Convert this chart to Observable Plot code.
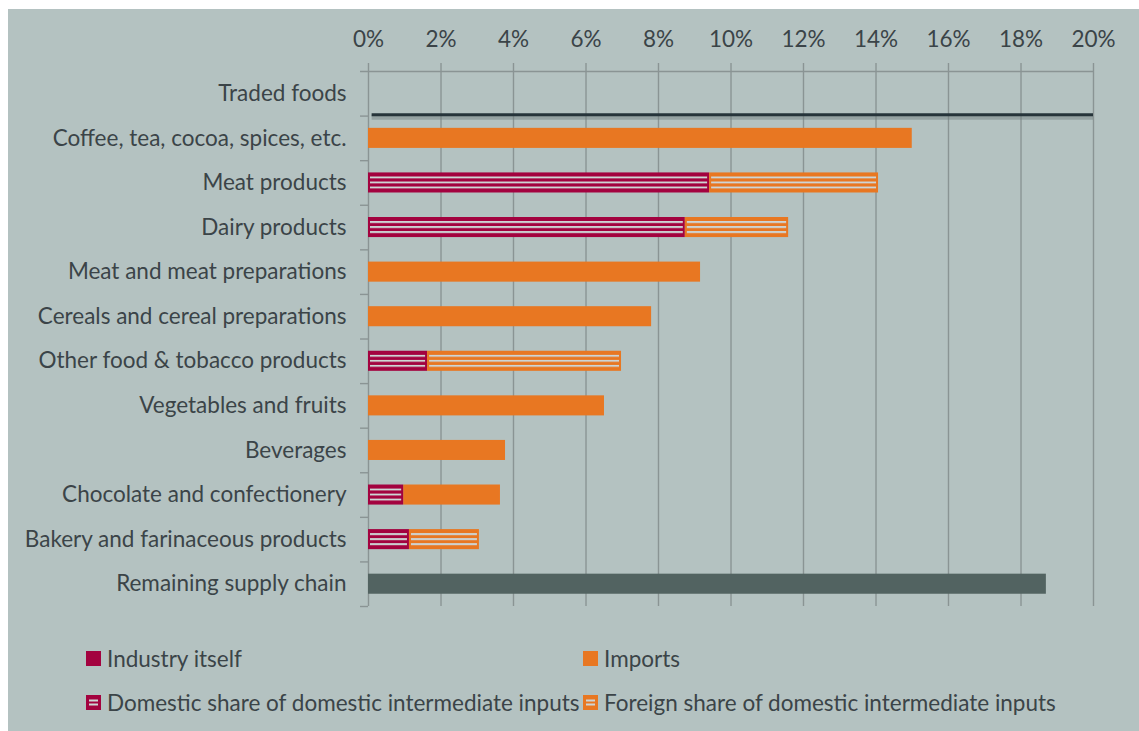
<!DOCTYPE html>
<html><head><meta charset="utf-8">
<script src="https://cdn.jsdelivr.net/npm/d3@7"></script>
<script src="https://cdn.jsdelivr.net/npm/@observablehq/plot@0.6"></script>
<style>
html,body{margin:0;padding:0;background:#fff;}
#panel{position:absolute;left:8px;top:9px;width:1131px;height:722px;background:#b4c2c1;font-family:Lato,"Open Sans",sans-serif;color:#3b4448;overflow:hidden;}
#chart svg{display:block;}
#legend{position:absolute;left:78px;top:627px;width:1050px;display:grid;grid-template-columns:497px 530px;grid-auto-rows:44px;font-size:22.5px;}
.item{display:flex;align-items:center;white-space:nowrap;}
.item svg{margin-right:6px;flex:none;}
</style></head><body>
<div id="panel"><div id="chart"></div><div id="legend"></div></div>
<script>
const categories = [
  "Traded foods",
  "Coffee, tea, cocoa, spices, etc.",
  "Meat products",
  "Dairy products",
  "Meat and meat preparations",
  "Cereals and cereal preparations",
  "Other food & tobacco products",
  "Vegetables and fruits",
  "Beverages",
  "Chocolate and confectionery",
  "Bakery and farinaceous products",
  "Remaining supply chain"
];
// values in percent, aligned with categories (null = no segment)
const industryItself = [null, null, null, null, null, null, null, null, null, null, null, null];
const domesticShare  = [null, null, 9.41, 8.74, null, null, 1.63, null, null, 0.97, 1.13, null];
const foreignShare   = [null, null, 4.66, 2.85, null, null, 5.35, null, null, null, 1.93, null];
const imports        = [null, 15.0, null, null, 9.16, 7.81, null, 6.51, 3.78, 2.67, null, null];
const remainingChain = [null, null, null, null, null, null, null, null, null, null, null, 18.70];
const tradedFoodsLine = [{category: "Traded foods", from: 0.1, to: 20}];
const xTicks = [0, 2, 4, 6, 8, 10, 12, 14, 16, 18, 20];
const legendNames = [
  "Industry itself",
  "Imports",
  "Domestic share of domestic intermediate inputs",
  "Foreign share of domestic intermediate inputs"
];

const CRIMSON = "#a3023f", ORANGE = "#e87722", DARK = "#526361", LIGHT = "#cdd5d5";
const GRID = "#8a9494", TEXT = "#3b4448";

const series = [
  {values: industryItself, fill: CRIMSON, stroke: "none", striped: false},
  {values: domesticShare, fill: "url(#stripeCrimson)", stroke: CRIMSON, striped: true},
  {values: foreignShare, fill: "url(#stripeOrange)", stroke: ORANGE, striped: true},
  {values: imports, fill: ORANGE, stroke: "none", striped: false},
  {values: remainingChain, fill: DARK, stroke: "none", striped: false}
];

const rows = [];
categories.forEach((c, i) => {
  let start = 0;
  for (const s of series) {
    const v = s.values[i];
    if (v == null) continue;
    rows.push({category: c, x1: start, x2: start + v, fill: s.fill, stroke: s.stroke, striped: s.striped});
    start += v;
  }
});
const solidRows = rows.filter(d => !d.striped);
const stripedRows = rows.filter(d => d.striped);

const FONT = "Lato, 'Open Sans', sans-serif";
const chart = Plot.plot({
  width: 1131, height: 620,
  marginLeft: 360, marginRight: 46, marginTop: 62, marginBottom: 23,
  style: {background: "transparent", fontFamily: FONT, fontSize: "22.5px", color: TEXT},
  x: {domain: [0, 20], ticks: xTicks, label: null},
  y: {domain: categories, paddingInner: 0.55, paddingOuter: 0.275, round: false, label: null},
  color: {type: "identity"},
  marks: [
    Plot.gridX(xTicks, {stroke: GRID, strokeOpacity: 1, strokeWidth: 1.4, insetTop: -8}),
    Plot.ruleY(categories.slice(0, 1), {y: d => d, x1: -0.22, x2: 20, dy: -22.3, stroke: GRID, strokeWidth: 1.4}),
    Plot.ruleY(categories, {y: d => d, x1: -0.22, x2: 0, dy: 22.3, stroke: GRID, strokeWidth: 1.4}),
    Plot.barX(solidRows, {y: "category", x1: "x1", x2: "x2", fill: "fill"}),
    Plot.barX(stripedRows, {y: "category", x1: "x1", x2: "x2", fill: "fill", stroke: "stroke", strokeWidth: 2, insetTop: 1, insetBottom: 1, insetLeft: 1, insetRight: 1}),
    Plot.ruleY(tradedFoodsLine, {y: "category", x1: "from", x2: "to", dy: 23.5, stroke: "#6f7c7c", strokeOpacity: 0.45, strokeWidth: 5}),
    Plot.ruleY(tradedFoodsLine, {y: "category", x1: "from", x2: "to", dy: 21, stroke: "#26343a", strokeWidth: 3}),
    Plot.axisX(xTicks, {anchor: "top", tickSize: 0, tickPadding: 25, tickFormat: d => d + "%", fill: TEXT, fontSize: 22.5}),
    Plot.axisY({tickSize: 0, tickPadding: 22, fill: TEXT, fontSize: 22.5})
  ]
});
d3.select(chart).insert("defs", ":first-child").html(`
  <pattern id="stripeCrimson" patternUnits="objectBoundingBox" patternContentUnits="objectBoundingBox" x="0" y="0.17" width="1" height="0.2778">
    <rect width="1" height="0.2778" fill="${CRIMSON}"/><rect width="1" height="0.105" fill="${LIGHT}"/>
  </pattern>
  <pattern id="stripeOrange" patternUnits="objectBoundingBox" patternContentUnits="objectBoundingBox" x="0" y="0.17" width="1" height="0.2778">
    <rect width="1" height="0.2778" fill="${ORANGE}"/><rect width="1" height="0.105" fill="${LIGHT}"/>
  </pattern>`);
document.getElementById("chart").appendChild(chart);

// legend
const legendStyles = [
  {color: CRIMSON, striped: false},
  {color: ORANGE, striped: false},
  {color: CRIMSON, striped: true},
  {color: ORANGE, striped: true}
];
const legend = document.getElementById("legend");
legendNames.forEach((name, i) => {
  const st = legendStyles[i];
  const sw = st.striped
    ? `<svg width="15" height="15"><rect x="0" y="0" width="15" height="15" fill="${st.color}"/><rect x="3" y="4.5" width="9" height="2" fill="${LIGHT}"/><rect x="3" y="8.5" width="9" height="2" fill="${LIGHT}"/></svg>`
    : `<svg width="15" height="15"><rect x="0" y="0" width="15" height="15" fill="${st.color}"/></svg>`;
  const div = document.createElement("div");
  div.className = "item";
  div.innerHTML = sw + `<span>${name}</span>`;
  legend.appendChild(div);
});
</script>
</body></html>
